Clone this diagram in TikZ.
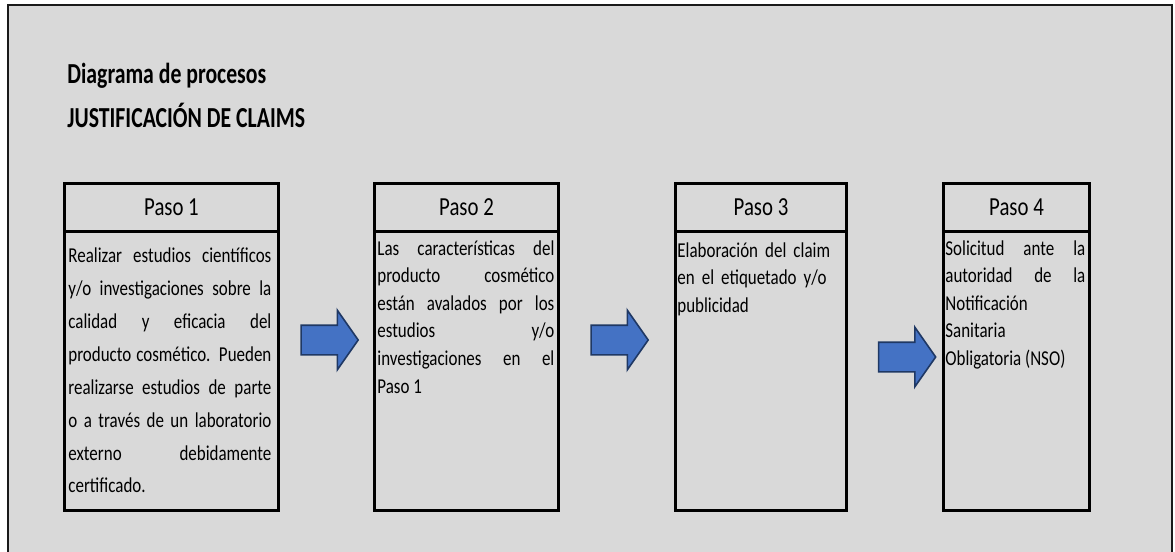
\documentclass[tikz,border=0pt]{standalone}
\usepackage{fontspec}
\setmainfont[FakeStretch=0.8]{Carlito}
\newfontfamily\ttlfont[FakeStretch=0.75]{Carlito}
\usetikzlibrary{shapes.arrows}
\definecolor{ink}{HTML}{000000}
\definecolor{panel}{HTML}{D9D9D9}
\definecolor{pline}{HTML}{1A1A1A}
\definecolor{blu}{HTML}{4472C4}
\definecolor{blud}{HTML}{1F3864}
\hbadness=10000
\tikzset{
  frm/.style={draw=ink,line width=1.5pt,inner sep=0pt,anchor=north west},
  head/.style={frm,minimum height=24pt,font=\fontsize{13}{15}\selectfont},
  body/.style={frm,minimum height=139.5pt},
  txt/.style={anchor=base west,inner sep=0pt,align=justify,text=ink,font=\fontsize{10.6}{13.8}\selectfont},
  blk/.style={single arrow,draw=blud,fill=blu,line width=0.8pt,text height=0pt,text depth=0pt,inner xsep=0pt,inner ysep=7pt,minimum height=28.5pt,single arrow head extend=7.5pt,single arrow tip angle=110},
  ttl/.style={anchor=base west,inner sep=0pt,font=\ttlfont\bfseries\fontsize{14.5}{16}\selectfont}
}

\begin{document}
\begin{tikzpicture}[x=0.5pt,y=-0.5pt]
\useasboundingbox (0,0) rectangle (1175,552);
\clip (0,0) rectangle (1175,552);
\fill[white] (0,0) rectangle (1175,552);
\draw[pline,fill=panel,line width=1pt] (8,5) rectangle (1172,570);
% title
\node[ttl] (t1) at (67,83) {Diagrama de procesos};
\node[ttl] (t2) at (67,127) {JUSTIFICACIÓN DE CLAIMS};
% four steps
\node[head,minimum width=107pt] (h1) at (63,182) {Paso 1};
\node[body,minimum width=107pt] (b1) at (63,230) {};
\node[txt,text width=101.5pt,font=\fontsize{10.6}{16.5}\selectfont] (x1) at (68,262) {Realizar estudios científicos\linebreak y/o investigaciones sobre la\linebreak calidad y eficacia del\linebreak producto cosmético. Pueden\linebreak realizarse estudios de parte\linebreak o a través de un laboratorio\linebreak externo debidamente\linebreak certificado.};

\node[head,minimum width=92pt] (h2) at (373,182) {Paso 2};
\node[body,minimum width=92pt] (b2) at (373,230) {};
\node[txt,text width=88.5pt] (x2) at (377,255) {Las características del\linebreak producto cosmético\linebreak están avalados por los\linebreak estudios y/o\linebreak investigaciones en el\linebreak Paso 1};

\node[head,minimum width=85.5pt] (h3) at (674,182) {Paso 3};
\node[body,minimum width=85.5pt] (b3) at (674,230) {};
\node[txt,text width=82.5pt,align=left] (x3) at (677,257) {Elaboración del claim\\ en el etiquetado y/o\\ publicidad};

\node[head,minimum width=73pt] (h4) at (942,182) {Paso 4};
\node[body,minimum width=73pt] (b4) at (942,230) {};
\node[txt,text width=70pt] (x4) at (945,255) {Solicitud ante la\linebreak autoridad de la\linebreak Notificación\linebreak Sanitaria\linebreak Obligatoria (NSO)};
% block arrows
\node[blk] (a1) at (324.5,340) {};
\node[blk] (a2) at (614.5,340) {};
\node[blk] (a3) at (902,357) {};
\end{tikzpicture}
\end{document}
